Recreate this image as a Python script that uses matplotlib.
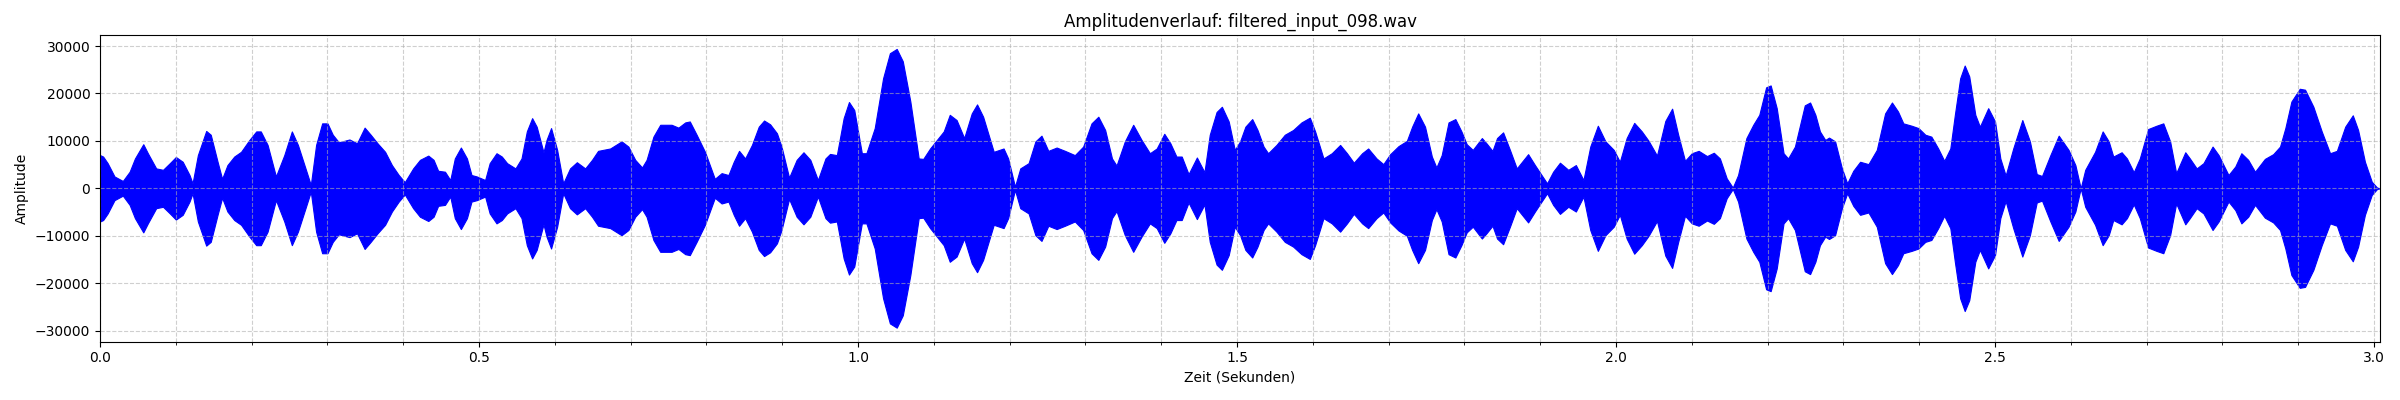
import numpy
import matplotlib
matplotlib.use('Agg')
import matplotlib.pyplot as plt
from matplotlib.ticker import MultipleLocator

# Huellkurve des Signals, Zeit in Sekunden
zeit = [
  0.000, 0.004, 0.010, 0.019, 0.030, 0.039, 0.046, 0.057, 0.063, 0.074,
  0.083, 0.092, 0.100, 0.109, 0.118, 0.122, 0.129, 0.140, 0.146, 0.155,
  0.161, 0.168, 0.177, 0.186, 0.197, 0.206, 0.212, 0.221, 0.232, 0.243,
  0.253, 0.261, 0.271, 0.278, 0.285, 0.293, 0.300, 0.307, 0.315, 0.329,
  0.339, 0.349, 0.357, 0.366, 0.376, 0.385, 0.394, 0.402, 0.413, 0.422,
  0.433, 0.440, 0.446, 0.455, 0.462, 0.468, 0.476, 0.484, 0.490, 0.497,
  0.508, 0.514, 0.523, 0.530, 0.537, 0.548, 0.556, 0.563, 0.570, 0.576,
  0.585, 0.589, 0.595, 0.603, 0.611, 0.620, 0.629, 0.640, 0.649, 0.657,
  0.673, 0.688, 0.697, 0.706, 0.715, 0.721, 0.730, 0.739, 0.745, 0.754,
  0.763, 0.772, 0.778, 0.787, 0.798, 0.811, 0.820, 0.829, 0.836, 0.843,
  0.851, 0.860, 0.869, 0.876, 0.884, 0.893, 0.899, 0.909, 0.919, 0.928,
  0.937, 0.947, 0.957, 0.963, 0.972, 0.981, 0.988, 0.995, 1.005, 1.011,
  1.022, 1.033, 1.042, 1.051, 1.059, 1.069, 1.080, 1.086, 1.095, 1.104,
  1.113, 1.121, 1.130, 1.140, 1.150, 1.157, 1.165, 1.179, 1.192, 1.198,
  1.207, 1.214, 1.225, 1.234, 1.242, 1.251, 1.262, 1.273, 1.286, 1.297,
  1.308, 1.317, 1.326, 1.335, 1.341, 1.352, 1.363, 1.374, 1.385, 1.394,
  1.404, 1.412, 1.420, 1.427, 1.436, 1.447, 1.457, 1.464, 1.473, 1.480,
  1.489, 1.497, 1.504, 1.511, 1.520, 1.527, 1.535, 1.541, 1.552, 1.563,
  1.574, 1.585, 1.596, 1.603, 1.614, 1.625, 1.636, 1.645, 1.654, 1.665,
  1.673, 1.684, 1.693, 1.702, 1.713, 1.724, 1.731, 1.739, 1.748, 1.757,
  1.763, 1.770, 1.779, 1.788, 1.796, 1.803, 1.811, 1.823, 1.829, 1.837,
  1.843, 1.851, 1.860, 1.869, 1.884, 1.893, 1.909, 1.917, 1.926, 1.937,
  1.947, 1.957, 1.966, 1.976, 1.986, 1.997, 2.005, 2.014, 2.024, 2.034,
  2.043, 2.054, 2.065, 2.074, 2.082, 2.091, 2.100, 2.109, 2.120, 2.129,
  2.137, 2.146, 2.154, 2.161, 2.172, 2.181, 2.189, 2.198, 2.204, 2.212,
  2.221, 2.227, 2.236, 2.249, 2.256, 2.263, 2.269, 2.276, 2.281, 2.289,
  2.298, 2.305, 2.313, 2.322, 2.333, 2.344, 2.355, 2.364, 2.372, 2.379,
  2.390, 2.399, 2.408, 2.416, 2.425, 2.433, 2.441, 2.447, 2.454, 2.460,
  2.466, 2.474, 2.480, 2.491, 2.500, 2.507, 2.514, 2.524, 2.536, 2.546,
  2.555, 2.562, 2.573, 2.584, 2.597, 2.606, 2.613, 2.619, 2.632, 2.642,
  2.650, 2.656, 2.667, 2.674, 2.683, 2.691, 2.702, 2.713, 2.722, 2.731,
  2.739, 2.751, 2.757, 2.766, 2.775, 2.787, 2.795, 2.808, 2.817, 2.825,
  2.834, 2.843, 2.856, 2.867, 2.876, 2.883, 2.891, 2.902, 2.909, 2.920,
  2.931, 2.942, 2.951, 2.962, 2.972, 2.979, 2.988, 2.997, 3.004, 3.008,
]

amplitude = [
  7000, 6700, 5300, 2500, 1550, 3500, 6300, 9300, 7400, 4200,
  3900, 5300, 6600, 5600, 2800, 1050, 7000, 12100, 11300, 5600,
  2000, 4900, 6700, 7700, 10200, 12000, 12000, 9150, 2500, 7000,
  12000, 9150, 4200, 700, 9150, 13700, 13700, 11300, 9700, 10300,
  9500, 12800, 11300, 9500, 7700, 4900, 2800, 1300, 4200, 6000,
  6900, 6000, 3700, 3500, 1750, 6300, 8600, 6300, 2800, 2500,
  1750, 5300, 7400, 6700, 5300, 4200, 6300, 12000, 14800, 13000,
  7600, 10200, 12700, 8100, 1050, 4200, 5500, 4200, 6000, 7900,
  8400, 9900, 8800, 6000, 4400, 6000, 10900, 13400, 13400, 13400,
  12800, 13900, 14100, 11300, 7700, 2000, 3200, 2800, 5600, 7900,
  6300, 9150, 13000, 14300, 13500, 11600, 8800, 2250, 6000, 7600,
  6000, 1750, 6300, 7250, 7000, 14800, 18200, 16500, 7400, 7400,
  12700, 23200, 28500, 29400, 26800, 18300, 6300, 6200, 8400, 10200,
  12000, 15500, 14400, 10600, 15800, 17700, 15100, 7700, 8400, 6300,
  350, 4200, 5300, 9900, 11100, 7900, 8600, 7900, 7000, 8800,
  13700, 15100, 12300, 6300, 4800, 9900, 13400, 10200, 7400, 8400,
  11500, 9500, 6700, 6700, 3000, 6500, 3400, 11300, 16100, 17200,
  14100, 8100, 9900, 13000, 14600, 12300, 8800, 7400, 9150, 11300,
  12300, 13900, 14900, 12000, 6300, 7400, 9150, 7400, 5400, 7400,
  8400, 6300, 5100, 7200, 8900, 10000, 13000, 15800, 13000, 6700,
  4400, 7000, 13900, 14600, 12000, 9300, 8100, 10600, 9500, 7900,
  10600, 11800, 8100, 4200, 7200, 4900, 1050, 3500, 5400, 3900,
  4900, 1750, 8800, 13200, 9900, 8100, 5600, 10600, 13800, 12000,
  10000, 6900, 14200, 16800, 11300, 5800, 7400, 7900, 6800, 7500,
  6300, 2100, 150, 2800, 10600, 13400, 15500, 21300, 21700, 16900,
  7400, 6300, 8800, 17500, 18100, 15500, 12000, 10200, 10700, 9900,
  4200, 1050, 3700, 5600, 5100, 8100, 15800, 18100, 16200, 13700,
  13200, 12700, 11300, 10900, 8400, 5800, 8400, 15500, 23200, 25900,
  23600, 15500, 13000, 16900, 14100, 6300, 2700, 8400, 14400, 9900,
  3000, 2600, 7000, 11100, 8100, 4900, 0, 3900, 7700, 12000,
  9900, 6700, 7600, 6300, 3400, 6300, 12500, 13200, 13700, 9900,
  3200, 7600, 6300, 4200, 5300, 8800, 7000, 2800, 4600, 7400,
  6000, 3500, 6200, 7200, 8800, 12700, 18300, 21000, 20800, 17200,
  12000, 7400, 7900, 13000, 15400, 12300, 5600, 1400, 150, 0,
]

dateiname = 'filtered_input_098.wav'
dauer = 3.008

t = numpy.array(zeit)
a = numpy.array(amplitude)

fig, ax = plt.subplots(1, 1, figsize=(24, 4), dpi=100)
ax.fill_between(t, -a, a, color='blue', linewidth=0.8)
ax.set_xlim(0, dauer)
ax.xaxis.set_minor_locator(MultipleLocator(0.1))
ax.grid(True, which='both', linestyle='--', alpha=0.6)
ax.set_title('Amplitudenverlauf: ' + dateiname)
ax.set_xlabel('Zeit (Sekunden)')
ax.set_ylabel('Amplitude')
fig.subplots_adjust(left=0.0417, right=0.9917, top=0.9125, bottom=0.146)
plt.savefig('out.png')
